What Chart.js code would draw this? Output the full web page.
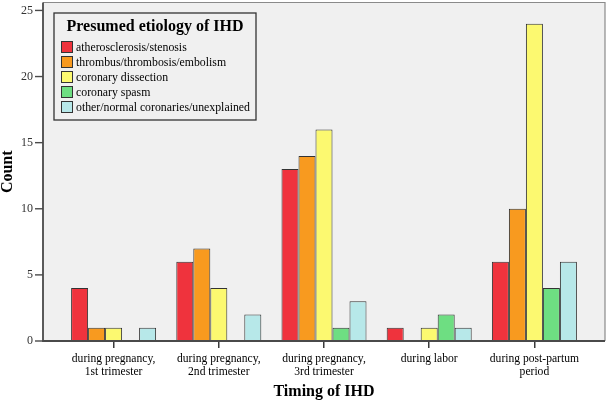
<!DOCTYPE html>
<html>
<head>
<meta charset="utf-8">
<script src="https://cdn.jsdelivr.net/npm/chart.js@4.4.1/dist/chart.umd.min.js"></script>
<style>
  html, body { margin: 0; padding: 0; background: #fff; }
  #wrap { width: 609px; height: 403px; }
</style>
</head>
<body>
<div id="wrap"><canvas id="myChart"></canvas></div>
<script>
var categories = [
  ["during pregnancy,", "1st trimester"],
  ["during pregnancy,", "2nd trimester"],
  ["during pregnancy,", "3rd trimester"],
  "during labor",
  ["during post-partum", "period"]
];
var etiologies = ["atherosclerosis/stenosis", "thrombus/thrombosis/embolism", "coronary dissection",
  "coronary spasm", "other/normal coronaries/unexplained"];
var atherosclerosis = [4, 6, 13, 1, 6];
var thrombus = [1, 7, 14, 0, 10];
var dissection = [1, 4, 16, 1, 24];
var spasm = [0, 0, 1, 2, 4];
var otherCauses = [1, 2, 3, 1, 6];
var yTicks = [0, 5, 10, 15, 20, 25];

var colours = ["#ef333d", "#f89a1f", "#fcf970", "#6ede82", "#b7e8e9"];
var serif = "'Liberation Serif', 'Times New Roman', serif";

// plot frame is wider than the category area (SPSS style padding)
var frameLeft = 43, frameRight = 605;

var framePlugin = {
  id: "frame",
  beforeDatasetsDraw: function (chart) {
    var ctx = chart.ctx, area = chart.chartArea, y = chart.scales.y;
    var y0 = y.getPixelForValue(0);
    ctx.save();
    ctx.fillStyle = "#f0f0f0";
    ctx.fillRect(frameLeft, area.top, frameRight - frameLeft, y0 - area.top);
    ctx.strokeStyle = "#8a8a8a";
    ctx.lineWidth = 1.2;
    ctx.beginPath();
    ctx.moveTo(frameLeft, area.top);
    ctx.lineTo(frameRight, area.top);
    ctx.lineTo(frameRight, y0);
    ctx.stroke();
    ctx.restore();
  },
  afterDatasetsDraw: function (chart) {
    var ctx = chart.ctx, area = chart.chartArea, y = chart.scales.y;
    var y0 = y.getPixelForValue(0);
    ctx.save();
    ctx.strokeStyle = "#4a4a4a";
    ctx.lineWidth = 1.8;
    ctx.beginPath();
    ctx.moveTo(frameLeft, area.top);
    ctx.lineTo(frameLeft, y0);
    ctx.lineTo(frameRight, y0);
    ctx.stroke();
    ctx.lineWidth = 1.4;
    yTicks.forEach(function (v) {
      var py = y.getPixelForValue(v);
      ctx.beginPath();
      ctx.moveTo(frameLeft - 8, py);
      ctx.lineTo(frameLeft, py);
      ctx.stroke();
    });

    // legend box
    var lx = 54, ly = 13, lw = 202, lh = 107;
    ctx.fillStyle = "#f0f0f0";
    ctx.fillRect(lx, ly, lw, lh);
    ctx.strokeStyle = "#333";
    ctx.lineWidth = 1.3;
    ctx.strokeRect(lx, ly, lw, lh);
    ctx.fillStyle = "#000";
    ctx.font = "bold 16px " + serif;
    ctx.textAlign = "center";
    ctx.textBaseline = "middle";
    ctx.fillText("Presumed etiology of IHD", lx + lw / 2, 27);
    ctx.font = "11.8px " + serif;
    ctx.textAlign = "left";
    chart.data.datasets.forEach(function (ds, i) {
      var ry = 47 + i * 15;
      ctx.fillStyle = ds.backgroundColor;
      ctx.fillRect(61, ry - 6, 12, 12);
      ctx.strokeStyle = "#333";
      ctx.lineWidth = 1;
      ctx.strokeRect(61.5, ry - 5.5, 11, 11);
      ctx.fillStyle = "#000";
      ctx.fillText(ds.label, 76, ry + 0.5);
    });
    ctx.restore();
  }
};

var series = [atherosclerosis, thrombus, dissection, spasm, otherCauses];

new Chart("myChart", {
  type: "bar",
  data: {
    labels: categories,
    datasets: series.map(function (vals, i) {
      return {
        label: etiologies[i],
        data: vals,
        backgroundColor: colours[i],
        borderColor: "#333",
        borderWidth: function (c) { return c.raw === 0 ? 0 : 1; },
        borderSkipped: "bottom",
        categoryPercentage: 0.808,
        barPercentage: 1
      };
    })
  },
  plugins: [framePlugin],
  options: {
    responsive: true,
    maintainAspectRatio: false,
    animation: false,
    layout: { padding: { left: 0, right: 22, top: 2.5, bottom: 0 } },
    scales: {
      x: {
        afterFit: function (s) {
          s.height = 62;
          s.paddingLeft = 0;
          s.paddingRight = 0;
        },
        grid: {
          display: true, drawOnChartArea: false, drawTicks: true,
          tickLength: 7, offset: false, color: "#3a3a3a", lineWidth: 1.5
        },
        border: { display: false },
        ticks: {
          color: "#000", padding: 5, maxRotation: 0, autoSkip: false,
          font: { family: serif, size: 11.6, lineHeight: 1.1 }
        },
        title: {
          display: true, text: "Timing of IHD", color: "#000",
          font: { family: serif, size: 16, weight: "bold", lineHeight: 1.2 },
          padding: { top: 0, bottom: 2 }
        }
      },
      y: {
        min: 0,
        max: 25.6,
        afterFit: function (s) {
          s.width = 61;
          s.paddingTop = 0;
          s.paddingBottom = 0;
        },
        afterBuildTicks: function (s) {
          s.ticks = yTicks.map(function (v) { return { value: v }; });
        },
        grid: { display: false, drawTicks: false },
        border: { display: false },
        ticks: {
          color: "#333", padding: 28,
          font: { family: serif, size: 12 }
        },
        title: {
          display: true, text: "Count", color: "#000",
          font: { family: serif, size: 16, weight: "bold", lineHeight: 1 },
          padding: 0
        }
      }
    },
    plugins: {
      legend: { display: false },
      tooltip: { enabled: false }
    }
  }
});
</script>
</body>
</html>
